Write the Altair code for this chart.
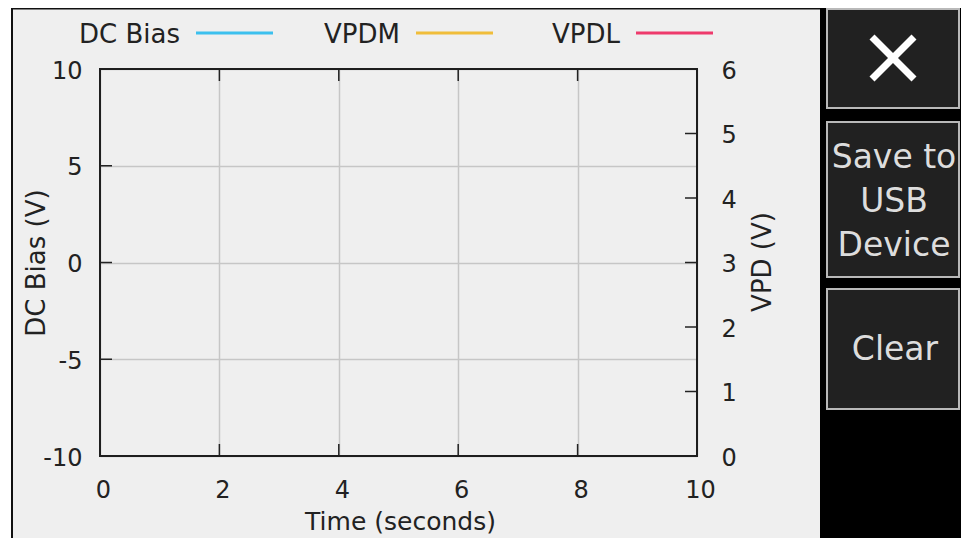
import altair as alt
import pandas as pd

# ---- data (no samples recorded yet: the plot is empty) ----
series_names = ["DC Bias", "VPDM", "VPDL"]
series_colors = ["#3cc0ee", "#f0bd3a", "#ee3a6c"]
time_s = []
dc_bias_v = []
vpdm_v = []
vpdl_v = []

x_ticks = [0, 2, 4, 6, 8, 10]
y_left_ticks = [-10, -5, 0, 5, 10]
y_right_ticks = [0, 1, 2, 3, 4, 5, 6]
x_domain = [0, 10]
y_left_domain = [-10, 10]
y_right_domain = [0, 6]

button_labels = ["Save to\nUSB\nDevice", "Clear"]

# ---- layout / style ----
W, H = 597, 387
PAD_L, PAD_T = 92, 61
TOTAL_W, TOTAL_H = 953, 530
FONT = "DejaVu Sans"
TXT = "#222222"

x_scale = alt.Scale(domain=x_domain, nice=False, zero=False)
yl_scale = alt.Scale(domain=y_left_domain, nice=False, zero=False)
yr_scale = alt.Scale(domain=y_right_domain, nice=False, zero=False)
color_scale = alt.Scale(domain=series_names, range=series_colors)

x_axis = alt.Axis(values=x_ticks, title="Time (seconds)", grid=True, ticks=False, tickSize=0,
                  domain=False, labelPadding=22, labelOffset=3, labelFlush=False,
                  labelOverlap=False, labelExpr="'' + datum.value", titleFontSize=25,
                  titleX=W / 2 + 1.5, titleY=65, titleBaseline="middle", titleAlign="center")
yl_axis = alt.Axis(values=y_left_ticks, title="DC Bias (V)", orient="left", grid=True, ticks=False,
                   tickSize=0, domain=False, labelPadding=18, labelOffset=2, labelFlush=False,
                   labelOverlap=False, labelExpr="'' + datum.value", titleFontSize=26,
                   titleAngle=270, titleX=-64, titleY=H / 2, titleBaseline="middle",
                   titleAlign="center")
yr_axis = alt.Axis(values=y_right_ticks, title="VPD (V)", orient="right", grid=False, ticks=False,
                   tickSize=0, domain=False, labelPadding=24, labelOffset=2, labelFlush=False,
                   labelOverlap=False, labelExpr="'' + datum.value", titleFontSize=26,
                   titleAngle=270, titleX=65, titleY=H / 2 - 1, titleBaseline="middle",
                   titleAlign="center")

one = alt.Data(values=[{"k": 0}])


def box(x, x2, y, y2, **mk):
    return alt.Chart(one).mark_rect(**mk).encode(
        x=alt.value(x), x2=alt.value(x2), y=alt.value(y), y2=alt.value(y2))


# ---- tick marks (inward, gnuplot style) ----
xt = pd.DataFrame({"t": x_ticks})
bottom_ticks = alt.Chart(xt).mark_rule(color=TXT, strokeWidth=1.5).encode(
    x=alt.X("t:Q", scale=x_scale, axis=x_axis), y=alt.value(H), y2=alt.value(H - 12))
top_ticks = alt.Chart(xt).mark_rule(color=TXT, strokeWidth=1.5).encode(
    x=alt.X("t:Q", scale=x_scale, axis=None), y=alt.value(0), y2=alt.value(12))
left_ticks = alt.Chart(pd.DataFrame({"v": y_left_ticks})).mark_rule(color=TXT, strokeWidth=1.5).encode(
    y=alt.Y("v:Q", scale=yl_scale, axis=yl_axis), x=alt.value(0), x2=alt.value(12))
right_ticks = alt.Chart(pd.DataFrame({"v": y_right_ticks})).mark_rule(color=TXT, strokeWidth=1.5).encode(
    y=alt.Y("v:Q", scale=yr_scale, axis=yr_axis), x=alt.value(W), x2=alt.value(W - 12))

# ---- series (empty) ----
dc_df = pd.DataFrame({"time": time_s, "value": dc_bias_v, "series": ["DC Bias"] * len(time_s)})
vpd_df = pd.DataFrame({
    "time": list(time_s) + list(time_s),
    "value": list(vpdm_v) + list(vpdl_v),
    "series": ["VPDM"] * len(vpdm_v) + ["VPDL"] * len(vpdl_v),
})
dc_line = alt.Chart(dc_df).mark_line(strokeWidth=2).encode(
    x=alt.X("time:Q", scale=x_scale, axis=None),
    y=alt.Y("value:Q", scale=yl_scale, axis=None),
    color=alt.Color("series:N", scale=color_scale, legend=None))
vpd_line = alt.Chart(vpd_df).mark_line(strokeWidth=2).encode(
    x=alt.X("time:Q", scale=x_scale, axis=None),
    y=alt.Y("value:Q", scale=yr_scale, axis=None),
    color=alt.Color("series:N", scale=color_scale, legend=None))

# ---- legend (text left of line sample) ----
leg_df = pd.DataFrame({"series": series_names, "idx": list(range(len(series_names)))})
leg_x = alt.X("idx:Q", scale=alt.Scale(domain=[0, len(series_names) - 1], range=[96, 536]), axis=None)
legend_lines = alt.Chart(leg_df).mark_rule(strokeWidth=3, x2Offset=77).encode(
    x=leg_x, x2="idx:Q", y=alt.value(-36),
    color=alt.Color("series:N", scale=color_scale, legend=None))
legend_text = alt.Chart(leg_df).mark_text(align="right", baseline="middle", dx=-16, fontSize=26,
                                          color=TXT, font=FONT).encode(
    x=leg_x, y=alt.value(-34), text="series:N")

# ---- frame and side panel ----
BOT = TOTAL_H - PAD_T + 2
white_strip = box(-92, -89, -61, BOT, color="#ffffff")
left_border = box(-89, -87, -61, BOT, color="#111111")
top_border = box(-89, 720, -61, -59.5, color="#111111")
sidebar = box(720, TOTAL_W - PAD_L + 2, -61, BOT, color="#000000")
btn_style = dict(fill="#212121", stroke="#b9b9b9", strokeWidth=2)
btn1 = box(727, 859, -60, 39, **btn_style)
btn2 = box(727, 859, 53, 208, **btn_style)
btn3 = box(727, 859, 220, 340, **btn_style)
x_a = alt.Chart(one).mark_rule(color="#ffffff", strokeWidth=7).encode(
    x=alt.value(772), y=alt.value(-32), x2=alt.value(814), y2=alt.value(10))
x_b = alt.Chart(one).mark_rule(color="#ffffff", strokeWidth=7).encode(
    x=alt.value(772), y=alt.value(10), x2=alt.value(814), y2=alt.value(-32))
btn_txt_style = dict(fontSize=33, color="#dddddd", font=FONT, align="center", baseline="middle",
                     lineBreak="\n", lineHeight=44)
btn2_text = alt.Chart(pd.DataFrame({"label": [button_labels[0]]})).mark_text(**btn_txt_style).encode(
    x=alt.value(794), y=alt.value(89), text="label:N")
btn3_text = alt.Chart(pd.DataFrame({"label": [button_labels[1]]})).mark_text(**btn_txt_style).encode(
    x=alt.value(795), y=alt.value(281), text="label:N")

plot_border = box(0, W, 0, H, fillOpacity=0, stroke="#1e1e1e", strokeWidth=2)

chart = alt.layer(
    white_strip, left_border, top_border, sidebar, btn1, btn2, btn3, x_a, x_b, btn2_text, btn3_text,
    bottom_ticks, top_ticks, left_ticks, right_ticks, dc_line, vpd_line,
    legend_lines, legend_text, plot_border,
).resolve_scale(
    x="independent", y="independent"
).properties(
    width=W, height=H,
    autosize=alt.AutoSizeParams(type="none"),
    padding={"left": PAD_L, "top": PAD_T, "right": TOTAL_W - PAD_L - W,
             "bottom": TOTAL_H - PAD_T - H},
    background="#efefef",
).configure_view(
    stroke=None
).configure_axis(
    labelFont=FONT, titleFont=FONT, labelFontSize=24, titleFontSize=25,
    labelColor=TXT, titleColor=TXT, titleFontWeight="normal",
    gridColor="#c6c6c6", gridWidth=1.5,
)

chart.save("out.html", embed_options={"renderer": "svg", "actions": False})
